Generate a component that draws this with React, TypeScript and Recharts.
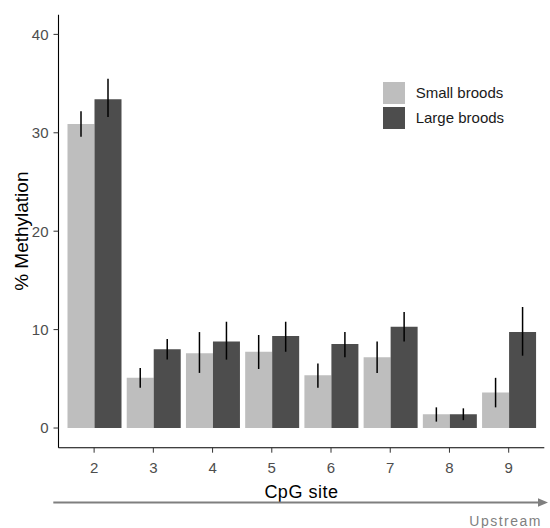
import { BarChart, Bar, XAxis, YAxis, Legend, ErrorBar, Label } from 'recharts';

const sites = ['2', '3', '4', '5', '6', '7', '8', '9'];

const smallMean = [30.9, 5.1, 7.6, 7.75, 5.35, 7.2, 1.4, 3.6];
const smallLow = [29.6, 4.1, 5.6, 6.0, 4.1, 5.6, 0.65, 2.1];
const smallHigh = [32.2, 6.1, 9.75, 9.45, 6.55, 8.8, 2.1, 5.1];

const largeMean = [33.4, 8.0, 8.8, 9.35, 8.55, 10.3, 1.4, 9.75];
const largeLow = [31.6, 6.95, 6.95, 7.75, 7.2, 8.8, 0.8, 7.35];
const largeHigh = [35.5, 9.05, 10.8, 10.8, 9.75, 11.8, 2.0, 12.3];

const seriesNames = ['Small broods', 'Large broods'];
const yTicks = [0, 10, 20, 30, 40];

const FONT = '"Liberation Sans", Arial, sans-serif';
const LIGHT = '#BEBEBE';
const DARK = '#4D4D4D';

const chartData = sites.map((site, i) => ({
  site,
  small: smallMean[i],
  smallErr: [smallMean[i] - smallLow[i], smallHigh[i] - smallMean[i]],
  large: largeMean[i],
  largeErr: [largeMean[i] - largeLow[i], largeHigh[i] - largeMean[i]],
}));

function renderLegend({ payload }: { payload?: { value: string; color: string }[] }) {
  // keep the order of the series, not alphabetical
  const items = [...(payload || [])].sort(
    (a, b) => seriesNames.indexOf(a.value) - seriesNames.indexOf(b.value)
  );
  return (
    <div style={{ fontFamily: FONT, fontSize: 15, color: '#1a1a1a' }}>
      {items.map((entry) => (
        <div key={entry.value} style={{ display: 'flex', alignItems: 'center', height: 25 }}>
          <span style={{ width: 22, height: 22, background: entry.color, marginRight: 11, display: 'inline-block' }} />
          {entry.value}
        </div>
      ))}
    </div>
  );
}

export default function App() {
  return (
    <div style={{ position: 'absolute', left: 0, top: 0, width: 550, height: 528, fontFamily: FONT }}>
      <BarChart
        width={550}
        height={528}
        data={chartData}
        margin={{ top: 14.7, right: 5.7, bottom: 29.7, left: 0 }}
        barCategoryGap={3}
        barGap={0}
      >
        <XAxis
          dataKey="site"
          height={50.6}
          padding={{ left: 6, right: 6 }}
          axisLine={{ stroke: '#000', strokeWidth: 1.1 }}
          tickLine={{ stroke: '#333' }}
          tickSize={5}
          tickMargin={9.5}
          tick={{ fill: '#4D4D4D', fontSize: 15, fontFamily: FONT }}
        >
          <Label
            value="CpG site"
            position="insideBottom"
            offset={0}
            style={{ fontSize: 18, fill: '#000', fontFamily: FONT, letterSpacing: 0.5 }}
          />
        </XAxis>
        <YAxis
          type="number"
          domain={[-2, 42]}
          ticks={yTicks}
          width={58.5}
          allowDataOverflow
          axisLine={{ stroke: '#000', strokeWidth: 1.1 }}
          tickLine={{ stroke: '#333' }}
          tickSize={5}
          tickMargin={5}
          tick={{ fill: '#4D4D4D', fontSize: 15, fontFamily: FONT }}
        >
          <Label
            value="% Methylation"
            angle={-90}
            position="insideLeft"
            offset={21.7}
            style={{ textAnchor: 'middle', fontSize: 19, fill: '#000', fontFamily: FONT }}
          />
        </YAxis>
        <Legend
          layout="vertical"
          align="center"
          verticalAlign="middle"
          content={renderLegend as any}
          wrapperStyle={{ left: 382.7, top: 80.2, width: 160 }}
        />
        <Bar dataKey="small" name={seriesNames[0]} fill={LIGHT} isAnimationActive={false}>
          <ErrorBar dataKey="smallErr" width={0} stroke="#000" strokeWidth={1.5} direction="y" isAnimationActive={false} />
        </Bar>
        <Bar dataKey="large" name={seriesNames[1]} fill={DARK} isAnimationActive={false}>
          <ErrorBar dataKey="largeErr" width={0} stroke="#000" strokeWidth={1.5} direction="y" isAnimationActive={false} />
        </Bar>
      </BarChart>
      <svg
        width={550}
        height={528}
        style={{ position: 'absolute', left: 0, top: 0, pointerEvents: 'none' }}
      >
        <line x1={53.3} y1={502.5} x2={539} y2={502.5} stroke="#7f7f7f" strokeWidth={1.8} />
        <polygon points="538,498.3 548,502.5 538,506.7" fill="#7f7f7f" />
        <text
          x={542}
          y={526}
          textAnchor="end"
          fill="#7f7f7f"
          fontSize={14}
          fontFamily={FONT}
          letterSpacing={1.5}
        >
          Upstream
        </text>
      </svg>
    </div>
  );
}
